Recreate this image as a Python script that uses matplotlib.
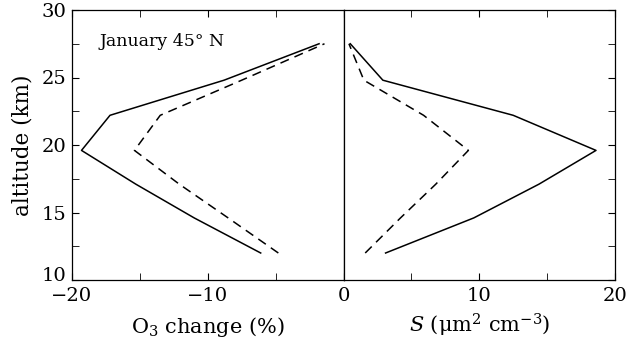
import numpy as np
import matplotlib
matplotlib.use("Agg")
import matplotlib.pyplot as plt
import matplotlib.transforms as mtrans
from matplotlib.ticker import MultipleLocator

# altitude levels (km)
alt = [12.0, 14.6, 17.1, 19.6, 22.2, 24.8, 27.5]

# O3 change (%)
o3_solid = [-6.1, -11.0, -15.3, -19.3, -17.2, -8.8, -1.8]
o3_dash = [-4.8, -8.5, -12.1, -15.4, -13.5, -7.5, -1.4]

# surface area density S (um^2 cm^-3)
s_solid = [3.1, 9.6, 14.4, 18.6, 12.5, 2.9, 0.5]
s_dash = [1.6, 4.2, 6.8, 9.2, 5.9, 1.5, 0.4]

plt.rcParams["font.family"] = ["DejaVu Serif"]
plt.rcParams["mathtext.fontset"] = "dejavuserif"

fig = plt.figure(figsize=(6.28, 3.43), dpi=100)
L, R, B, T = 72/628, 615/628, 1-280/343, 1-10/343
mid = 343.5/628
ax1 = fig.add_axes([L, B, mid-L, T-B])
ax2 = fig.add_axes([mid, B, R-mid, T-B], sharey=ax1)

lw = 1.1
ax1.plot(o3_solid, alt, color="black", lw=lw)
ax1.plot(o3_dash, alt, color="black", lw=lw, ls=(0, (6, 4)))
ax2.plot(s_solid, alt, color="black", lw=lw)
ax2.plot(s_dash, alt, color="black", lw=lw, ls=(0, (6, 4)))

ax1.set_xlim(-20, 0)
ax2.set_xlim(0, 20)
ax1.set_ylim(10, 30)

for ax in (ax1, ax2):
    ax.xaxis.set_major_locator(MultipleLocator(10))
    ax.xaxis.set_minor_locator(MultipleLocator(5))
    ax.yaxis.set_major_locator(MultipleLocator(5))
    ax.yaxis.set_minor_locator(MultipleLocator(2.5))
    for s in ax.spines.values():
        s.set_linewidth(0.9)
    ax.tick_params(which="both", direction="in", top=True, labelsize=14, length=5)
    ax.tick_params(axis="x", pad=5)
    ax.tick_params(axis="y", pad=4)

ax1.tick_params(which="both", left=True, right=False)
ax2.tick_params(which="both", left=False, right=True, labelleft=False)
ax2.set_xticks([10, 20])
ax2.xaxis.set_major_formatter(plt.FuncFormatter(lambda v, p: f"{v:.0f}"))
ax1.xaxis.set_major_formatter(plt.FuncFormatter(lambda v, p: f"\u2212{abs(v):.0f}" if v < 0 else f"{v:.0f}"))

ax1.set_ylabel("altitude (km)", fontsize=15.5, labelpad=6)
ax1.set_xlabel("O$_3$ change (%)", fontsize=15, labelpad=7)
ax2.set_xlabel("$S$ (\u03bcm$^2$ cm$^{-3}$)", fontsize=15, labelpad=5)

ax1.text(0.1, 0.885, "January 45\u00b0 N", transform=ax1.transAxes, fontsize=12.5, va="center")

# nudge the bottom "10" up a little so it clears the "-20" below it
fig.canvas.draw()
lab10 = [t for t in ax1.get_yticklabels() if t.get_text() == "10"]
for t in lab10:
    t.set_transform(t.get_transform() + mtrans.ScaledTranslation(0, 4/72, fig.dpi_scale_trans))

fig.savefig("out.png", dpi=100)
